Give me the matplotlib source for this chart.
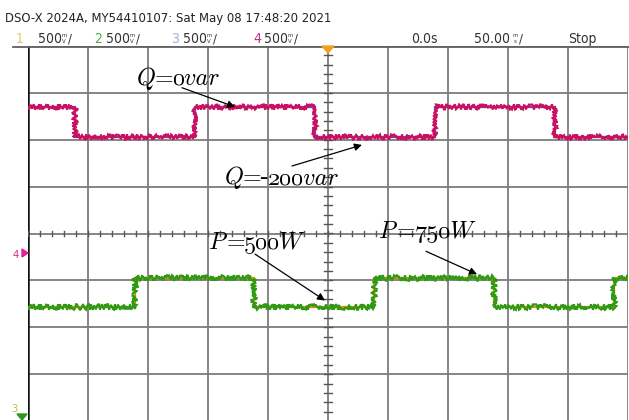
import os
import matplotlib
import matplotlib.pyplot as plt
import numpy as np
from matplotlib import font_manager
from matplotlib.font_manager import FontProperties
from matplotlib.textpath import TextPath
from matplotlib.transforms import Affine2D

W, H = 629, 420

# step traces: edge times in ms, level of each segment in screen divisions
q_edges = [-250, -211, -111, -11, 89, 189, 250]
q_levels = [2.70, 2.06, 2.70, 2.06, 2.70, 2.06]
p_edges = [-250, -161, -62, 38, 138, 238, 250]
p_levels = [-1.57, -0.95, -1.57, -0.95, -1.57, -0.95]

header = "DSO-X 2024A, MY54410107: Sat May 08 17:48:20 2021"
ch_names = ["1", "2", "3", "4"]
ch_scale = ["500", "500", "500", "500"]
ch_colors = ["#d9cd6a", "#4fa84f", "#9fb3d6", "#c0308e"]

ttf = os.path.join(matplotlib.get_data_path(), "fonts", "ttf")
cm_it = FontProperties(fname=os.path.join(ttf, "cmmi10.ttf"))
cm_rm = FontProperties(fname=os.path.join(ttf, "cmr10.ttf"))

# narrow screen font if the condensed DejaVu face is there
narrow = FontProperties(family="DejaVu Sans", stretch="condensed")
has_condensed = "Condensed" in font_manager.findfont(narrow)
hdr_size = 9.4 if has_condensed else 8.4

fig = plt.figure(figsize=(W / 100, H / 100), dpi=100)
fig.patch.set_facecolor("white")


def fx(x):
    return x / W


def fy(y):
    return 1 - y / H


def scope_text(s, x, y, size=None, color="#333333", ha="left"):
    # baseline at pixel row y
    fp = narrow.copy()
    fp.set_size(size or hdr_size)
    return fig.text(fx(x), fy(y), s, fontproperties=fp, color=color,
                    ha=ha, va="baseline")


def math_label(pieces, x, y, size=17.3, gap=1.5):
    # runs in cmmi10 / cmr10 set side by side, centred on data point (x, y)
    em = size * 100 / 72
    runs = []
    cursor = 0.0
    y0, y1 = 1e9, -1e9
    for s, prop in pieces:
        ext = TextPath((0, 0), s, size=em, prop=prop).get_extents()
        left = cursor + (gap if runs else 0)
        runs.append((s, prop, left))
        cursor = left + ext.width
        y0, y1 = min(y0, ext.y0), max(y1, ext.y1)
    dx = -cursor / 2
    dy = -(y0 + y1) / 2
    for s, prop, left in runs:
        fp = prop.copy()
        fp.set_size(size)
        ax.text(x, y, s, fontproperties=fp, ha="left", va="baseline", zorder=6,
                transform=ax.transData + Affine2D().translate(left + dx, dy))


# screen: 10 x 8 divisions, 50 ms/div
ax = fig.add_axes([fx(28), fy(421), 600 / W, 375 / H])
ax.set_xlim(-250, 250)
ax.set_ylim(-4, 4)
ax.axis("off")

for x in np.arange(-250, 251, 50):
    ax.axvline(x, color="#7c7c7c", lw=1.3, zorder=1)
for y in np.arange(-4, 5, 1):
    ax.axhline(y, color="#7c7c7c", lw=1.3, zorder=1)
ax.axvline(-250, color="#111111", lw=1.8, zorder=2)

# minor ticks on the centre cross
for x in np.arange(-250, 251, 10):
    ax.plot([x, x], [-0.06, 0.06], color="#555555", lw=1, zorder=2)
for y in np.arange(-4, 4.01, 0.2):
    ax.plot([-3.5, 3.5], [y, y], color="#555555", lw=1, zorder=2)

# traces
ax.stairs(q_levels, q_edges, baseline=None, color="#7a3fa8", lw=1.6, zorder=3)
q = ax.stairs(q_levels, q_edges, baseline=None, color="#cc1060", lw=1.5, zorder=4)
q.set_sketch_params(scale=2.6, length=2.0, randomness=4)
ax.stairs(p_levels, p_edges, baseline=None, color="#e08a10", lw=1.6, zorder=3)
p = ax.stairs(p_levels, p_edges, baseline=None, color="#2f9a14", lw=1.5, zorder=4)
p.set_sketch_params(scale=2.8, length=2.0, randomness=4)

# labels with arrows
arrow = dict(arrowstyle="-|>", color="black", lw=0.9, mutation_scale=11,
             shrinkA=0, shrinkB=0)
math_label([("Q", cm_it), ("=", cm_rm), ("0var", cm_it)], -125.8, 3.30)
ax.annotate("", xy=(-77.5, 2.70), xytext=(-121.7, 3.11), arrowprops=arrow, zorder=6)
math_label([("Q", cm_it), ("=-", cm_rm), ("200var", cm_it)], -39.2, 1.18)
ax.annotate("", xy=(28.3, 1.89), xytext=(-30, 1.44), arrowprops=arrow, zorder=6)
math_label([("P", cm_it), ("=", cm_rm), ("500W", cm_it)], -60, -0.21)
ax.annotate("", xy=(-2.5, -1.43), xytext=(-60.8, -0.44), arrowprops=arrow, zorder=6)
math_label([("P", cm_it), ("=", cm_rm), ("750W", cm_it)], 81.7, 0.03)
ax.annotate("", xy=(124.2, -0.87), xytext=(81.7, -0.38), arrowprops=arrow, zorder=6)

# top border and trigger marker
fig.add_artist(plt.Line2D([fx(13), 1], [fy(46.5), fy(46.5)], color="#606060", lw=1.3))
fig.add_artist(plt.Polygon([[fx(322), fy(46)], [fx(334), fy(46)], [fx(328), fy(53)]],
                           closed=True, color="#f0a020", zorder=7))

# header rows
scope_text(header, 5, 22, color="#222222")


def per_div(x, y, top, bottom):
    # stacked unit, e.g. m over V, followed by the slash
    scope_text(top, x + 2, y - 6, size=4.3, ha="center")
    scope_text(bottom, x + 2, y, size=4.3, ha="center")
    scope_text("/", x + 6, y)


row = 43
name_x = [20, 98, 175, 257]
scale_x = [38, 106, 183, 264]
for name, sc, col, nx, sx in zip(ch_names, ch_scale, ch_colors, name_x, scale_x):
    scope_text(name, nx, row, size=hdr_size + 0.6, color=col, ha="center")
    scope_text(sc, sx, row, size=hdr_size + 0.6)
    per_div(sx + 24, row, "m", "V")

scope_text("0.0s", 411, row, size=hdr_size + 0.6)
scope_text("50.00", 474, row, size=hdr_size + 0.6)
per_div(513, row, "m", "s")
scope_text("Stop", 568, row, size=hdr_size + 0.6)

# channel reference markers on the left edge
scope_text("4", 16, 258, size=8, color="#d0309a", ha="center")
fig.add_artist(plt.Polygon([[fx(22), fy(249)], [fx(22), fy(257)], [fx(28), fy(253)]],
                           closed=True, color="#e0209a"))
scope_text("3", 14, 412, size=8, color="#b8c040", ha="center")
fig.add_artist(plt.Polygon([[fx(17), fy(414)], [fx(27), fy(414)], [fx(22), fy(420)]],
                           closed=True, color="#2a9a20"))

fig.savefig("out.png", dpi=100)
